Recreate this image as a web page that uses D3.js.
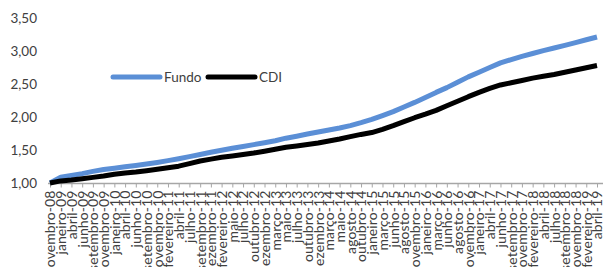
<!DOCTYPE html>
<html>
<head>
<meta charset="utf-8">
<script src="https://cdn.jsdelivr.net/npm/d3@7"></script>
<style>
  body { margin: 0; background: #fff; }
  svg text { font-family: Lato, "Open Sans", sans-serif; fill: #404040; }
</style>
</head>
<body>
<svg id="chart" width="603" height="267"></svg>
<script>
// categories (x axis labels)
const meses = ["novembro-08","janeiro-09","abril-09","junho-09","setembro-09","novembro-09",
  "janeiro-10","abril-10","junho-10","setembro-10","novembro-10","fevereiro-11","abril-11",
  "julho-11","setembro-11","dezembro-11","fevereiro-12","maio-12","julho-12","outubro-12",
  "dezembro-12","março-13","maio-13","julho-13","outubro-13","dezembro-13","março-14",
  "maio-14","agosto-14","outubro-14","janeiro-15","março-15","junho-15","agosto-15",
  "novembro-15","janeiro-16","março-16","junho-16","agosto-16","novembro-16","janeiro-17",
  "abril-17","junho-17","setembro-17","novembro-17","fevereiro-18","abril-18","julho-18",
  "setembro-18","novembro-18","fevereiro-19","abril-19"]

const fundo = [1.00,1.086,1.114,1.142,1.176,1.205,1.224,1.245,1.265,1.288,1.312,1.339,1.368,
  1.40,1.432,1.465,1.497,1.526,1.553,1.582,1.611,1.641,1.679,1.709,1.742,1.773,1.803,1.833,
  1.870,1.915,1.964,2.021,2.082,2.152,2.221,2.295,2.373,2.445,2.526,2.608,2.679,2.75,2.82,
  2.87,2.918,2.962,3.006,3.045,3.086,3.127,3.170,3.212]

const cdi = [1.00,1.032,1.045,1.065,1.085,1.106,1.132,1.152,1.167,1.186,1.208,1.230,1.255,
  1.294,1.333,1.362,1.389,1.409,1.432,1.455,1.482,1.512,1.542,1.562,1.583,1.606,1.636,1.667,
  1.703,1.736,1.764,1.812,1.868,1.929,1.989,2.042,2.10,2.170,2.238,2.308,2.373,2.433,2.486,
  2.518,2.552,2.589,2.618,2.644,2.677,2.712,2.747,2.780]

const yTicks = [1.0,1.5,2.0,2.5,3.0,3.5]

const series = [
  {name: "Fundo", values: fundo, color: "#5b8fd6"},
  {name: "CDI", values: cdi, color: "#000000"}
]

const svg = d3.select("#chart")

let x = d3.scalePoint().domain(meses).range([50, 597])
let y = d3.scaleLinear().domain([1, 3.5]).range([183, 18])

// y labels, no axis line
svg.append("g").selectAll("text").data(yTicks).enter().append("text")
  .attr("x", 37).attr("y", d => y(d)).attr("dy", "0.35em")
  .attr("text-anchor", "end").style("font-size", "13.5px")
  .text(d => d3.format(".2f")(d).replace(".", ","))

// x axis
let xAxis = svg.append("g").attr("transform", "translate(0,183.5)")
  .call(d3.axisBottom(x).tickSize(4).tickSizeOuter(0).tickPadding(3))
xAxis.select(".domain").attr("d", "M48,0H603").attr("stroke", "#a6a6a6").attr("stroke-width", 1.5)
xAxis.selectAll(".tick line").attr("stroke", "#a6a6a6").attr("stroke-width", 1)
xAxis.selectAll(".tick text")
  .attr("transform", "rotate(-90)")
  .attr("x", -7).attr("y", 0).attr("dy", "0.35em")
  .attr("text-anchor", "end")
  .style("font-size", "14px").style("letter-spacing", "0.1px")
  .style("font-family", "Lato, sans-serif").style("fill", "#404040")

// lines
let line = d3.line().x((d, i) => x(meses[i])).y(d => y(d))
svg.append("g").selectAll("path").data(series).enter().append("path")
  .attr("d", d => line(d.values))
  .attr("fill", "none")
  .attr("stroke", d => d.color)
  .attr("stroke-width", 5)
  .attr("stroke-linejoin", "round")

// legend
let legend = svg.append("g").selectAll("g").data(series).enter().append("g")
  .attr("transform", (d, i) => `translate(${i == 0 ? 113 : 208},77)`)
legend.append("line").attr("x1", 0).attr("x2", 47).attr("y1", 0).attr("y2", 0)
  .attr("stroke", d => d.color).attr("stroke-width", 5).attr("stroke-linecap", "round")
legend.append("text").attr("x", 51).attr("y", 0).attr("dy", "0.35em")
  .style("font-size", "13.5px").text(d => d.name)
</script>
</body>
</html>
